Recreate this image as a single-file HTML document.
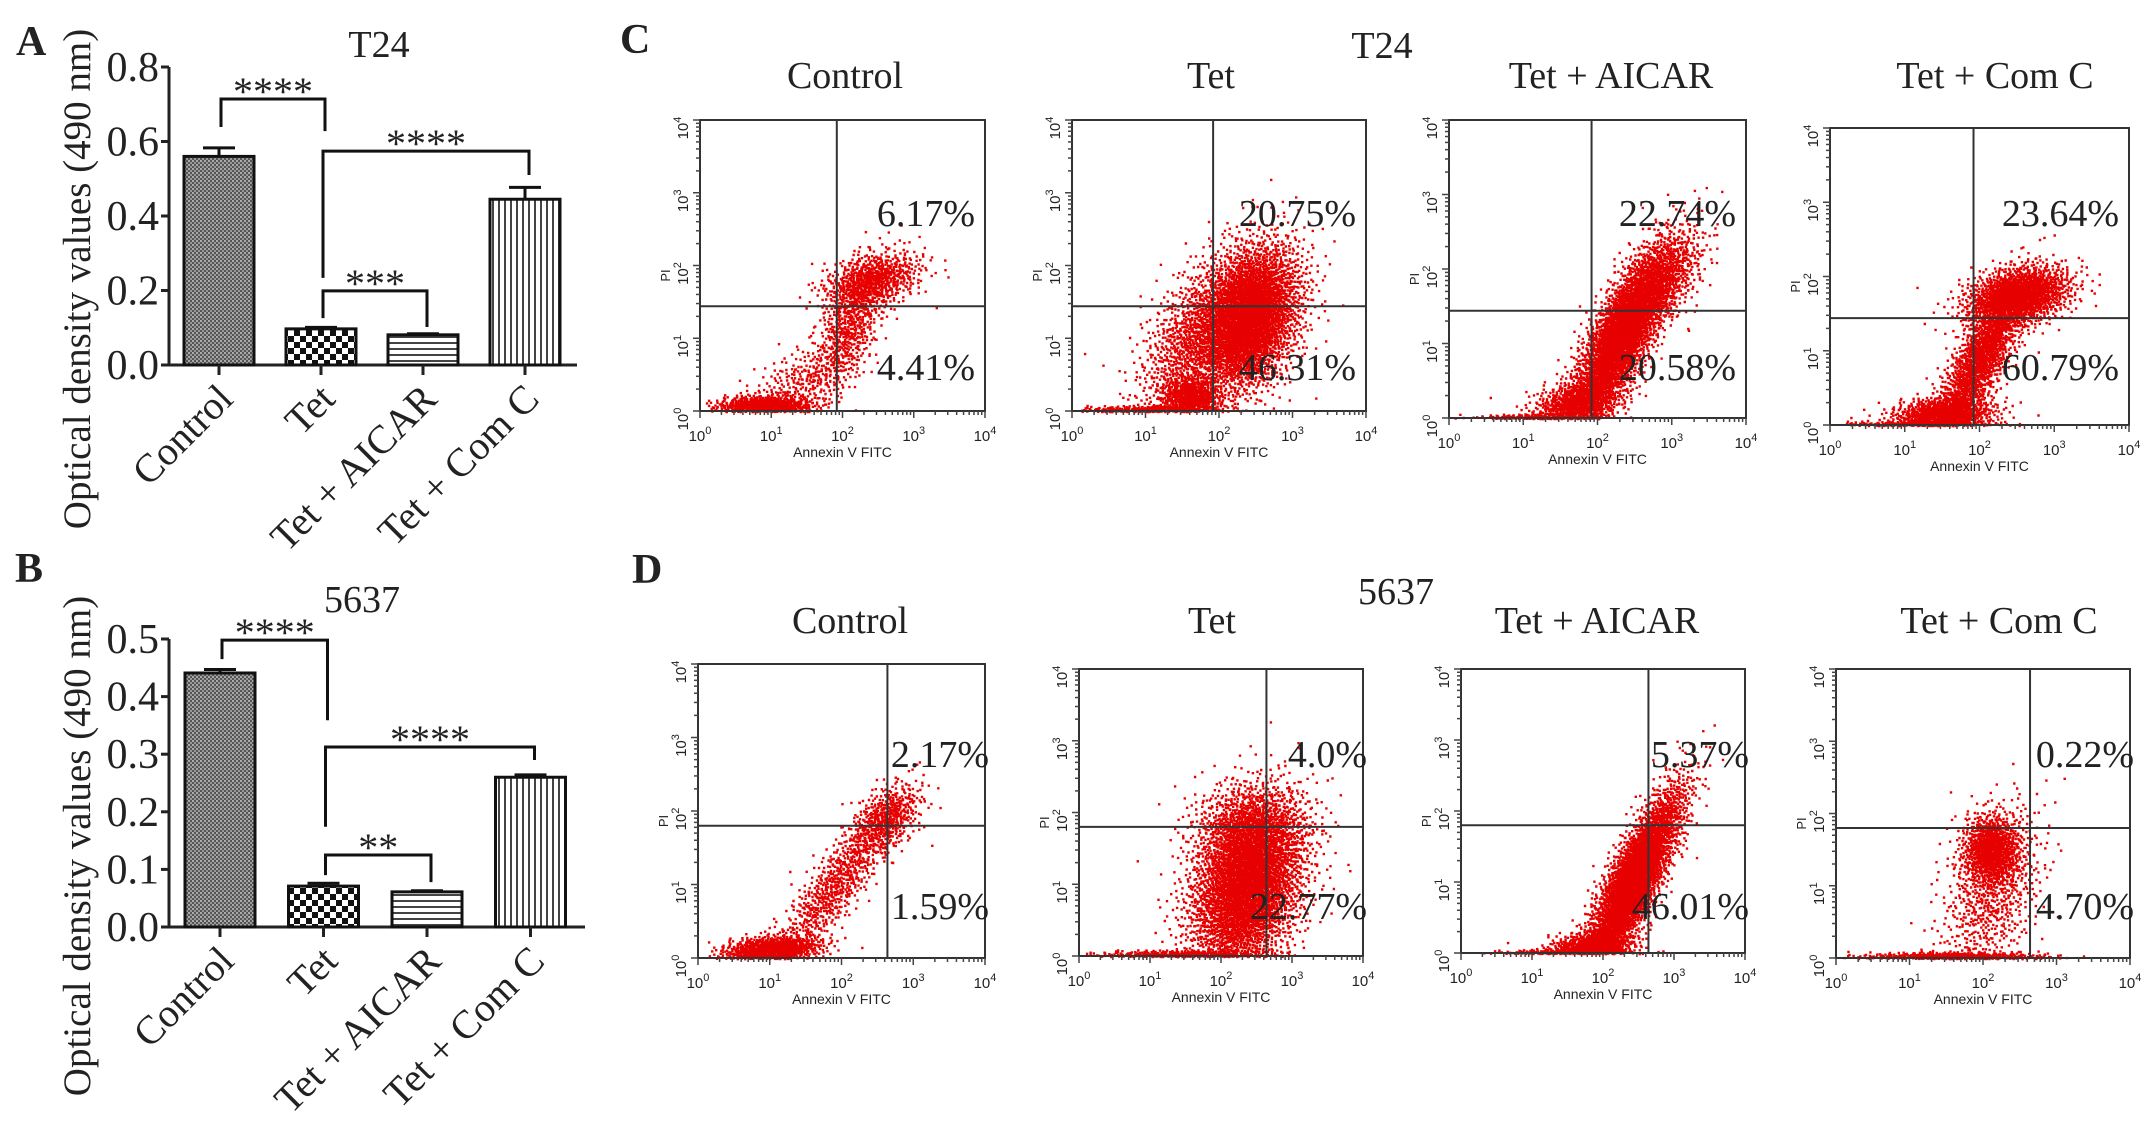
<!DOCTYPE html>
<html><head><meta charset="utf-8"><style>
body{margin:0;background:#fff;}
svg{display:block;}
text{font-family:"Liberation Serif",serif;fill:#222;}
.sans{font-family:"Liberation Sans",sans-serif;}
</style></head><body>
<svg id="fig" width="2150" height="1127" viewBox="0 0 2150 1127" xmlns="http://www.w3.org/2000/svg">
<defs>
<pattern id="patDense" width="4" height="4" patternUnits="userSpaceOnUse"><rect width="4" height="4" fill="#555"/><rect width="2" height="2" fill="#aaa"/><rect x="2" y="2" width="2" height="2" fill="#999"/></pattern>
<pattern id="patCheck" width="12" height="12" patternUnits="userSpaceOnUse"><rect width="12" height="12" fill="#fff"/><rect width="6" height="6" fill="#111"/><rect x="6" y="6" width="6" height="6" fill="#111"/></pattern>
<pattern id="patHoriz" width="6" height="6" patternUnits="userSpaceOnUse"><rect width="6" height="6" fill="#fff"/><rect y="0" width="6" height="2" fill="#444"/></pattern>
<pattern id="patVert" width="6" height="6" patternUnits="userSpaceOnUse"><rect width="6" height="6" fill="#fff"/><rect x="0" width="2" height="6" fill="#444"/></pattern>
</defs>
<g id="layer"></g>
</svg>
<script>
// ---------- Bar chart data ----------
const barCategories = ["Control", "Tet", "Tet + AICAR", "Tet + Com C"];
const t24Values = [0.56, 0.097, 0.081, 0.445];
const t24Errors = [0.023, 0.004, 0.003, 0.032];
const t24Ticks = [0.0, 0.2, 0.4, 0.6, 0.8];
const t24TickLabels = ["0.0", "0.2", "0.4", "0.6", "0.8"];
const c5637Values = [0.441, 0.071, 0.061, 0.260];
const c5637Errors = [0.006, 0.005, 0.002, 0.004];
const c5637Ticks = [0.0, 0.1, 0.2, 0.3, 0.4, 0.5];
const c5637TickLabels = ["0.0", "0.1", "0.2", "0.3", "0.4", "0.5"];
const t24Brackets = [[0,1,0.714,0.639,0.628],[1,3,0.574,0.234,0.51],[1,2,0.199,0.126,0.102]];
const t24BracketLabels = ["****","****","***"];
const c5637Brackets = [[0,1,0.498,0.465,0.359],[1,3,0.3125,0.174,0.29],[1,2,0.125,0.09,0.078]];
const c5637BracketLabels = ["****","****","**"];

// ---------- Flow cytometry data ----------
const flowTitles = ["Control", "Tet", "Tet + AICAR", "Tet + Com C"];
const t24UpperPct = ["6.17%", "20.75%", "22.74%", "23.64%"];
const t24LowerPct = ["4.41%", "46.31%", "20.58%", "60.79%"];
const c5637UpperPct = ["2.17%", "4.0%", "5.37%", "0.22%"];
const c5637LowerPct = ["1.59%", "22.77%", "46.01%", "4.70%"];
const t24Gate = [1.92, 1.44];
const c5637Gate = [2.64, 1.80];
const t24Clusters = [
 [[0.9,0.08,0.35,0.07,700,0],[1.4,0.4,0.4,0.3,300,0.6],[2.1,1.2,0.25,0.45,600,0.6],[2.4,1.8,0.35,0.2,700,0.4]],
 [[1.0,0.02,0.5,0.03,400,0],[2.4,1.3,0.35,0.5,3500,0.3],[1.7,1.0,0.4,0.55,1200,0.5],[1.6,0.2,0.2,0.15,600,0]],
 [[2.3,1.1,0.35,0.6,3500,0.8],[1.7,0.2,0.3,0.15,700,0.3],[2.8,1.8,0.3,0.35,800,0.6],[1.2,0.02,0.4,0.02,250,0]],
 [[1.5,0.15,0.35,0.12,900,0.2],[2.0,0.9,0.3,0.5,1600,0.8],[2.5,1.75,0.35,0.2,1600,0.3],[1.2,0.02,0.5,0.02,300,0]]
];
const c5637Clusters = [
 [[1.0,0.12,0.35,0.1,900,0.3],[1.9,1.0,0.4,0.5,700,0.85],[2.6,1.9,0.25,0.25,500,0.5]],
 [[1.5,0.03,0.6,0.03,500,0],[2.35,1.0,0.4,0.6,4000,0.3],[2.4,1.8,0.4,0.3,800,0]],
 [[2.4,1.0,0.35,0.65,4000,0.85],[1.8,0.1,0.3,0.1,700,0.3],[1.5,0.02,0.5,0.02,250,0]],
 [[2.1,1.5,0.2,0.25,900,0],[2.1,0.9,0.35,0.6,700,0.4],[1.6,0.03,0.6,0.03,600,0]]
];

const NS = "http://www.w3.org/2000/svg";
const layer = document.getElementById("layer");
function mk(tag, attrs, parent, txt){
  const e = document.createElementNS(NS, tag);
  for (const k in attrs) e.setAttribute(k, attrs[k]);
  if (txt !== undefined) e.textContent = txt;
  (parent || layer).appendChild(e);
  return e;
}

function barChart(o){
  const g = mk("g", {});
  
  
  const yPx = v => o.y0 - (v / o.max) * (o.y0 - o.yTop);
  const cx = i => o.c0 + i * o.step;
  const ax = mk("path", {d:`M${o.ax} ${o.yTop} V${o.y0} H${o.axEnd}`, stroke:"#222","stroke-width":3, fill:"none"}, g);
  
  
  o.ticks.forEach((t, i) => {
    const y = yPx(t);
    mk("line", {x1:o.ax-8, x2:o.ax, y1:y, y2:y, stroke:"#222","stroke-width":3}, g);
    const tl = mk("text", {x:o.ax-10, y:y+14, "text-anchor":"end","font-size":42}, g, o.tickLabels[i]);
    
    
  });
  const yt = mk("text", {x:0, y:0, "text-anchor":"middle","font-size":39, transform:`translate(${o.titleX},${(o.yTop+o.y0)/2+63}) rotate(-90)`}, g, "Optical density values (490 nm)");
  
  
  const pats = ["url(#patDense)","url(#patCheck)","url(#patHoriz)","url(#patVert)"];
  o.values.forEach((v, i) => {
    const x = cx(i), top = yPx(v), w = 70;
    const b = mk("rect", {x:x-w/2, y:top, width:w, height:o.y0-top, fill:pats[i], stroke:"#111","stroke-width":3}, g);
    
    
    const et = yPx(v + o.errors[i]);
    mk("path", {d:`M${x} ${top} V${et} M${x-16} ${et} H${x+16}`, stroke:"#111","stroke-width":3, fill:"none"}, g);
    mk("line", {x1:x, x2:x, y1:o.y0, y2:o.y0+10, stroke:"#222","stroke-width":3}, g);
    const xl = mk("text", {x:0, y:0, "text-anchor":"end","font-size":40, transform:`translate(${x+16},${o.y0+36}) rotate(-45)`}, g, barCategories[i]);
    
    
  });
  o.brackets.forEach((b, k) => {
    const xa = cx(b[0]) + 2, xb = cx(b[1]) + 4, ly = yPx(b[2]);
    const br = mk("path", {d:`M${xa} ${yPx(b[3])} V${ly} H${xb} V${yPx(b[4])}`, stroke:"#111","stroke-width":3, fill:"none"}, g);
    
    
    const st = mk("text", {x:(xa+xb)/2, y:ly+6, "text-anchor":"middle","font-size":40}, g, o.bracketLabels[k]);
    
    
  });
  const ti = mk("text", {x:o.titleCx, y:o.titleY, "text-anchor":"middle","font-size":38}, g, o.title);
  
  
  const pl = mk("text", {x:o.letterX, y:o.letterY, "font-size":42, "font-weight":"bold"}, g, o.letter);
  
  
}
barChart({name:"panel-a-t24-bar-chart", ax:169, axEnd:577, y0:365, yTop:67, max:0.8, c0:219, step:102,
  values:t24Values, errors:t24Errors, ticks:t24Ticks, tickLabels:t24TickLabels, brackets:t24Brackets, bracketLabels:t24BracketLabels,
  titleX:90, title:"T24", titleCx:379, titleY:57, letter:"A", letterX:16, letterY:55});
barChart({name:"panel-b-5637-bar-chart", ax:169, axEnd:585, y0:927, yTop:639, max:0.5, c0:220, step:103.5,
  values:c5637Values, errors:c5637Errors, ticks:c5637Ticks, tickLabels:c5637TickLabels, brackets:c5637Brackets, bracketLabels:c5637BracketLabels,
  titleX:90, title:"5637", titleCx:362, titleY:612, letter:"B", letterX:15, letterY:582});

function halton(i, b){ let f = 1, r = 0; while (i > 0){ f /= b; r += f * (i % b); i = Math.floor(i / b); } return r; }
function flowPlot(box, clusters, gate, up, low, upY, lowY, pctRight, name){
  const [x0,y0,x1,y1] = box;
  const g = mk("g", {});
  
  
  const X = v => x0 + (v/4)*(x1-x0);
  const Y = v => y1 - (v/4)*(y1-y0);
  let pts = "";
  let idx = 1;
  clusters.forEach(c => {
    const [cx, cy, sx, sy, n, r] = c;
    for (let k = 0; k < n; k++, idx++){
      const u1 = Math.max(halton(idx, 2), 1e-4), u2 = halton(idx, 3);
      const R = Math.sqrt(-2*Math.log(u1));
      const z1 = R*Math.cos(2*Math.PI*u2), z2 = R*Math.sin(2*Math.PI*u2);
      const vx = cx + sx*z1, vy = cy + sy*(r*z1 + Math.sqrt(1-r*r)*z2);
      if (vx < 0.05 || vx > 3.95 || vy < 0 || vy > 3.95) continue;
      pts += `M${X(vx).toFixed(1)} ${Y(vy).toFixed(1)}h2.4v2.4h-2.4z`;
    }
  });
  const dots = mk("path", {d:pts, fill:"#e60000"}, g);
  
  
  const frame = mk("rect", {x:x0, y:y0, width:x1-x0, height:y1-y0, fill:"none", stroke:"#333","stroke-width":2}, g);
  
  
  const q = mk("path", {d:`M${X(gate[0])} ${y0} V${y1} M${x0} ${Y(gate[1])} H${x1}`, stroke:"#333","stroke-width":2, fill:"none"}, g);
  
  
  for (let d = 0; d <= 4; d++){
    for (let m = 1; m < 10; m++){
      if (d === 4 && m > 1) break;
      const v = d + Math.log10(m), L = m === 1 ? 7 : 4;
      mk("line", {x1:X(v), x2:X(v), y1:y1, y2:y1+L, stroke:"#444","stroke-width":1.5}, g);
      mk("line", {x1:x0-L, x2:x0, y1:Y(v), y2:Y(v), stroke:"#444","stroke-width":1.5}, g);
    }
    const xt = mk("text", {x:X(d), y:y1+30, "text-anchor":"middle","font-size":15, class:"sans", fill:"#333"}, g);
    
    
    mk("tspan", {}, xt, "10");
    mk("tspan", {dy:-7, "font-size":11}, xt, String(d));
    const yt = mk("text", {x:0, y:0, "text-anchor":"middle","font-size":15, class:"sans", transform:`translate(${x0-12},${Y(d)+8}) rotate(-90)`}, g);
    
    
    mk("tspan", {}, yt, "10");
    mk("tspan", {dy:-7, "font-size":11}, yt, String(d));
  }
  const xl = mk("text", {x:(x0+x1)/2, y:y1+46, "text-anchor":"middle","font-size":14, class:"sans"}, g, "Annexin V FITC");
  
  
  const pl = mk("text", {x:0, y:0, "text-anchor":"middle","font-size":13, class:"sans", transform:`translate(${x0-30},${Y(2)+10}) rotate(-90)`}, g, "PI");
  
  
  const a = mk("text", {x:x1+pctRight, y:upY, "text-anchor":"end","font-size":38}, g, up);
  
  
  const b = mk("text", {x:x1+pctRight, y:lowY, "text-anchor":"end","font-size":38}, g, low);
  
  
}
const rowCBoxes = [[700,120,985,411],[1072,120,1366,411],[1449,120,1746,418],[1830,128,2129,425]];
const rowDBoxes = [[698,664,985,958],[1079,669,1363,956],[1461,669,1745,953],[1836,669,2130,958]];
const rowCTitleX = [845,1211,1611,1995];
const rowDTitleX = [850,1212,1597,1999];
for (let i = 0; i < 4; i++){
  flowPlot(rowCBoxes[i], t24Clusters[i], t24Gate, t24UpperPct[i], t24LowerPct[i], 226, 380, -10, "t24-flow-plot-" + i);
  flowPlot(rowDBoxes[i], c5637Clusters[i], c5637Gate, c5637UpperPct[i], c5637LowerPct[i], 767, 919, 4, "5637-flow-plot-" + i);
  const t1 = mk("text", {x:rowCTitleX[i], y:88, "text-anchor":"middle","font-size":38}, layer, flowTitles[i]);
  
  
  const t2 = mk("text", {x:rowDTitleX[i], y:633, "text-anchor":"middle","font-size":38}, layer, flowTitles[i]);
  
  
}
const lc = mk("text", {x:620, y:53, "font-size":42, "font-weight":"bold"}, layer, "C");


const ld = mk("text", {x:632, y:583, "font-size":42, "font-weight":"bold"}, layer, "D");


const tc = mk("text", {x:1382, y:58, "text-anchor":"middle","font-size":38}, layer, "T24");


const td = mk("text", {x:1396, y:604, "text-anchor":"middle","font-size":38}, layer, "5637");


</script>
</body></html>
